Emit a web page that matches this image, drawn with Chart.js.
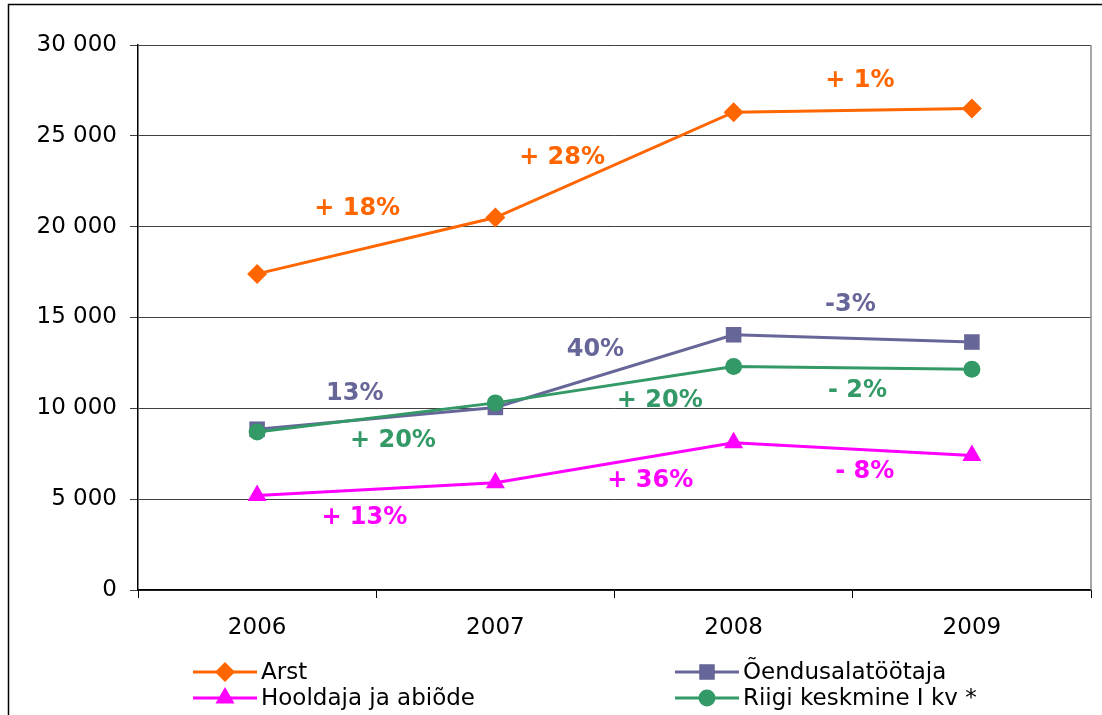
<!DOCTYPE html>
<html>
<head>
<meta charset="utf-8">
<script src="https://cdn.jsdelivr.net/npm/chart.js@4.4.0/dist/chart.umd.min.js"></script>
<style>
html, body { margin: 0; padding: 0; background: #fff; }
#wrap { width: 1102px; height: 715px; position: relative; }
</style>
</head>
<body>
<div id="wrap"><canvas id="chart"></canvas></div>
<script>
// data
const years = ['2006', '2007', '2008', '2009'];
const arst = [17400, 20500, 26300, 26500];
const oendus = [8850, 10050, 14050, 13650];
const hooldaja = [5200, 5900, 8100, 7400];
const riigi = [8700, 10300, 12300, 12150];
const seriesNames = ['Arst', 'Õendusalatöötaja', 'Hooldaja ja abiõde', 'Riigi keskmine I kv *'];
const seriesColors = ['#FF6600', '#666699', '#FF00FF', '#339966'];
const yMin = 0, yMax = 30000, yStep = 5000;

// percent change labels (series index, category position, value level)
const pctText = ['+ 18%', '+ 28%', '+ 1%', '13%', '40%', '-3%', '+ 20%', '+ 20%', '- 2%', '+ 13%', '+ 36%', '- 8%'];
const pctSeries = [0, 0, 0, 1, 1, 1, 3, 3, 3, 2, 2, 2];
const pctAt = [0.42, 1.28, 2.53, 0.41, 1.42, 2.49, 0.57, 1.69, 2.52, 0.45, 1.65, 2.55];
const pctLevel = [21000, 23800, 28050, 10800, 13200, 15700, 8200, 10400, 10950, 4000, 6000, 6500];

const FONT = '"DejaVu Sans", "Liberation Sans", Arial, sans-serif';

const pointStyles = ['rectRot', 'rect', 'triangle', 'circle'];
const pointSizes = [10, 11, 11, 8.5];

function makeSet(i, values, order) {
    return {
        label: seriesNames[i],
        data: values,
        borderColor: seriesColors[i],
        backgroundColor: seriesColors[i],
        pointBackgroundColor: seriesColors[i],
        pointBorderWidth: 0,
        pointStyle: pointStyles[i],
        pointRadius: pointSizes[i],
        borderWidth: 3,
        tension: 0,
        fill: false,
        order: order
    };
}

// frame round the whole picture + right edge of the plot area
const framePlugin = {
    id: 'frame',
    beforeDraw(chart) {
        const ctx = chart.ctx;
        ctx.save();
        ctx.fillStyle = '#fff';
        ctx.fillRect(0, 0, chart.width, chart.height);
        ctx.strokeStyle = '#000';
        ctx.lineWidth = 1.5;
        ctx.strokeRect(8.5, 4.5, chart.width + 20, chart.height + 20);
        ctx.restore();
    },
    afterDatasetsDraw(chart) {
        const a = chart.chartArea;
        const ctx = chart.ctx;
        ctx.save();
        ctx.strokeStyle = '#888';
        ctx.lineWidth = 1.5;
        ctx.beginPath();
        ctx.moveTo(a.right, a.top);
        ctx.lineTo(a.right, a.bottom);
        ctx.stroke();
        ctx.restore();
    }
};

// percent labels placed through the chart scales
const pctPlugin = {
    id: 'pct',
    afterDatasetsDraw(chart) {
        const ctx = chart.ctx;
        const xs = chart.scales.x, ys = chart.scales.y;
        ctx.save();
        ctx.font = 'bold 24px ' + FONT;
        ctx.textAlign = 'center';
        ctx.textBaseline = 'middle';
        pctText.forEach((t, i) => {
            ctx.fillStyle = seriesColors[pctSeries[i]];
            ctx.fillText(t, xs.getPixelForValue(pctAt[i]), ys.getPixelForValue(pctLevel[i]));
        });
        ctx.restore();
    }
};

// two-column legend with line + marker
const legendPlugin = {
    id: 'twoColLegend',
    afterDraw(chart) {
        const ctx = chart.ctx;
        const cols = [193, 675];
        const rows = [672, 698];
        const layout = [[0, 0], [1, 0], [0, 1], [1, 1]]; // [col,row] per series
        ctx.save();
        ctx.font = '23px ' + FONT;
        ctx.textBaseline = 'middle';
        seriesNames.forEach((name, i) => {
            const x = cols[layout[i][0]];
            const y = rows[layout[i][1]];
            ctx.strokeStyle = seriesColors[i];
            ctx.fillStyle = seriesColors[i];
            ctx.lineWidth = 3;
            ctx.beginPath();
            ctx.moveTo(x, y);
            ctx.lineTo(x + 64, y);
            ctx.stroke();
            Chart.helpers.drawPoint(ctx, {
                pointStyle: pointStyles[i], radius: pointSizes[i], rotation: 0, borderWidth: 0
            }, x + 32, y);
            ctx.fillStyle = '#000';
            ctx.fillText(name, x + 68, y + 1);
        });
        ctx.restore();
    }
};

const ctx = document.getElementById('chart').getContext('2d');
const chart = new Chart(ctx, {
    type: 'line',
    data: {
        labels: years,
        datasets: [
            makeSet(0, arst, 3),
            makeSet(1, oendus, 2),
            makeSet(2, hooldaja, 1),
            makeSet(3, riigi, 0)
        ]
    },
    options: {
        responsive: true,
        maintainAspectRatio: false,
        animation: false,
        layout: { padding: { top: 45, right: 8, bottom: 0, left: 0 } },
        plugins: {
            legend: { display: false },
            tooltip: { enabled: false }
        },
        scales: {
            x: {
                offset: true,
                grid: {
                    offset: true,
                    drawOnChartArea: false,
                    color: '#000',
                    tickLength: 8
                },
                border: { color: '#000', width: 1.5 },
                ticks: {
                    color: '#000',
                    font: { family: FONT, size: 23 },
                    padding: 16
                },
                afterFit(scale) { scale.height = 125; }
            },
            y: {
                min: yMin,
                max: yMax,
                grid: { color: '#404040', tickLength: 8 },
                border: { color: '#000', width: 1.5 },
                ticks: {
                    stepSize: yStep,
                    color: '#000',
                    font: { family: FONT, size: 23 },
                    padding: 13,
                    callback: v => String(v).replace(/\B(?=(\d{3})+(?!\d))/g, ' ')
                },
                afterFit(scale) { scale.width = 138; }
            }
        }
    },
    plugins: [framePlugin, pctPlugin, legendPlugin]
});
</script>
</body>
</html>
